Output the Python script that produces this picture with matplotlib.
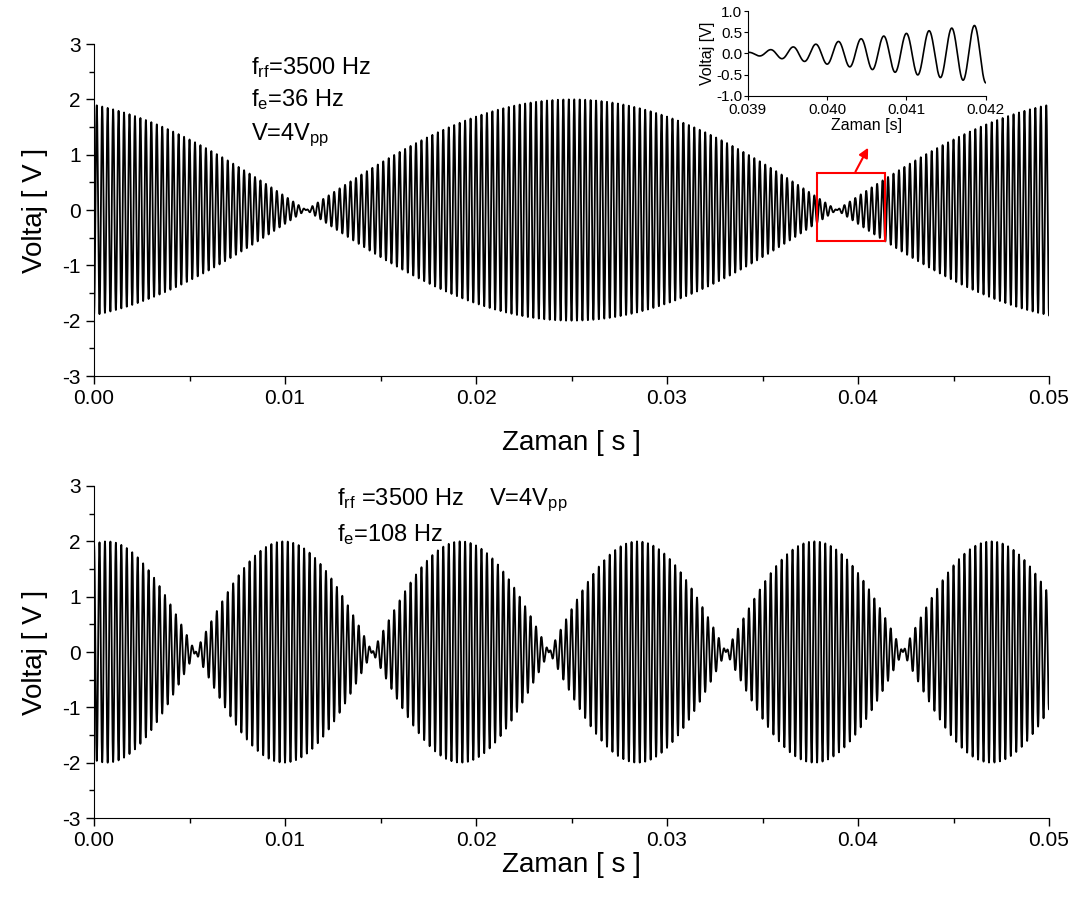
import numpy as np
import matplotlib
matplotlib.use("Agg")
import matplotlib.pyplot as plt
from matplotlib.ticker import MultipleLocator

plt.rcParams['font.family'] = ['Liberation Sans', 'DejaVu Sans']
plt.rcParams['mathtext.fontset'] = 'custom'
plt.rcParams['mathtext.rm'] = 'Liberation Sans'
plt.rcParams['mathtext.it'] = 'Liberation Sans:italic'
plt.rcParams['axes.unicode_minus'] = False

f_rf = 3500.0          # carrier [Hz]
f_e_top = 36.0         # envelope (beat) frequency, top panel [Hz]
f_e_bot = 108.0        # envelope frequency, bottom panel [Hz]
v_pp = 4.0             # peak to peak voltage
t_peak_top = 0.025     # time of envelope maximum, top
t_peak_bot = 0.0192    # time of envelope maximum, bottom
t_end = 0.05

# red box / arrow in top panel
box_x = [0.03785, 0.04141]
box_y = [-0.56, 0.67]
arrow_from = (0.0398, 0.65)
arrow_to = (0.0406, 1.17)

x_ticks = [0.00, 0.01, 0.02, 0.03, 0.04, 0.05]
y_ticks = [-3, -2, -1, 0, 1, 2, 3]
inset_x_ticks = [0.039, 0.040, 0.041, 0.042]
inset_y_ticks = [-1.0, -0.5, 0.0, 0.5, 1.0]


def signal(t, f_e, t0):
    env = (v_pp / 2) * np.cos(np.pi * f_e * (t - t0))
    return env * np.cos(2 * np.pi * f_rf * t)


t = np.linspace(0, t_end, 40001)
v_top = signal(t, f_e_top, t_peak_top)
v_bot = signal(t, f_e_bot, t_peak_bot)


def style_axes(ax, xpad):
    ax.set_xlim(0, 0.05)
    ax.set_ylim(-3, 3)
    ax.set_xticks(x_ticks)
    ax.set_xticklabels(['%.2f' % v for v in x_ticks])
    ax.set_yticks(y_ticks)
    ax.xaxis.set_minor_locator(MultipleLocator(0.005))
    ax.yaxis.set_minor_locator(MultipleLocator(0.5))
    ax.tick_params(which='both', direction='out', labelsize=15, width=1.0)
    ax.tick_params(which='major', length=6)
    ax.tick_params(which='minor', length=3.5)
    ax.spines['top'].set_visible(False)
    ax.spines['right'].set_visible(False)
    ax.set_xlabel('Zaman [ s ]', fontsize=20, labelpad=xpad)
    ax.set_ylabel('Voltaj [ V ]', fontsize=20, labelpad=10)


fig = plt.figure(figsize=(10.82, 9.02), dpi=100)
ax1 = fig.add_axes([0.0869, 0.5831, 0.8826, 0.3681])
ax2 = fig.add_axes([0.0869, 0.0931, 0.8826, 0.3681])

ax1.plot(t, v_top, color='black', lw=1.3)
ax2.plot(t, v_bot, color='black', lw=1.3)
style_axes(ax1, 16)
style_axes(ax2, 1)

# annotations
ax1.text(0.0082, 2.57, r'f$_{\rm rf}$=3500 Hz', fontsize=17, va='center')
ax1.text(0.0082, 1.99, r'f$_{\rm e}$=36 Hz', fontsize=17, va='center')
ax1.text(0.0082, 1.35, r'V=4V$_{\rm pp}$', fontsize=17, va='center')
ax2.text(0.0127, 2.75, r'f$_{\rm rf}$ =3500 Hz    V=4V$_{\rm pp}$', fontsize=17, va='center')
ax2.text(0.0127, 2.12, r'f$_{\rm e}$=108 Hz', fontsize=17, va='center')

ax1.add_patch(plt.Rectangle((box_x[0], box_y[0]), box_x[1] - box_x[0], box_y[1] - box_y[0],
                            fill=False, edgecolor='red', lw=1.5, zorder=5))
ax1.annotate('', xy=arrow_to, xytext=arrow_from,
             arrowprops=dict(arrowstyle='-|>', color='red', lw=1.5, mutation_scale=14))

# inset zoom on the node
axin = fig.add_axes([0.691, 0.8936, 0.220, 0.0942])
mask = (t >= 0.039) & (t <= 0.042)
axin.plot(t[mask], v_top[mask], color='black', lw=1.2)
axin.set_xlim(0.039, 0.042)
axin.set_ylim(-1.0, 1.0)
axin.set_xticks(inset_x_ticks)
axin.set_xticklabels(['%.3f' % v for v in inset_x_ticks])
axin.set_yticks(inset_y_ticks)
axin.set_yticklabels(['%.1f' % v for v in inset_y_ticks])
axin.tick_params(direction='out', labelsize=11, length=3, pad=1)
axin.tick_params(axis='x', pad=2)
axin.spines['top'].set_visible(False)
axin.spines['right'].set_visible(False)
axin.set_xlabel('Zaman [s]', fontsize=11.5, labelpad=1)
axin.set_ylabel('Voltaj [V]', fontsize=11.5, labelpad=1)

fig.savefig('out.png', dpi=100)
